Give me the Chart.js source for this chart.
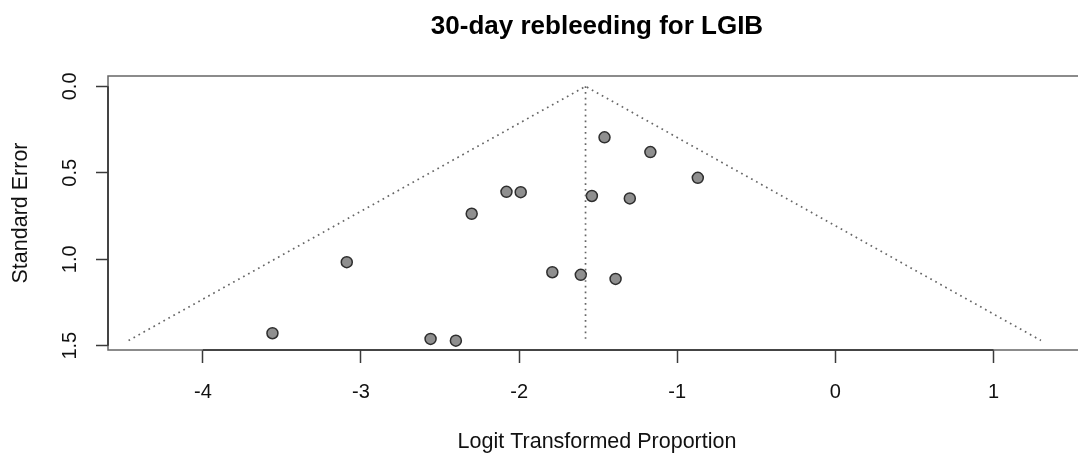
<!DOCTYPE html>
<html>
<head>
<meta charset="utf-8">
<title>30-day rebleeding for LGIB</title>
<script src="https://cdn.jsdelivr.net/npm/chart.js@4.4.1/dist/chart.umd.min.js"></script>
<style>
  html, body { margin: 0; padding: 0; background: #ffffff; overflow: hidden; }
  #funnel-container { width: 1093px; height: 459px; }
</style>
</head>
<body>
<div id="funnel-container"><canvas id="funnel-chart" width="1093" height="459"></canvas></div>
<script>
// study estimates
const logitProportion = [-3.56, -3.09, -2.56, -2.40, -2.30, -2.08, -1.99, -1.79, -1.61, -1.54, -1.46, -1.17, -0.87, -1.30, -1.39];
const standardError = [1.428, 1.017, 1.461, 1.471, 0.737, 0.610, 0.612, 1.075, 1.090, 0.634, 0.295, 0.380, 0.529, 0.648, 1.114];

// funnel outline and pooled estimate line
const funnelX = [-4.47, -1.58, 1.30];
const funnelY = [1.47, 0, 1.47];
const pooledX = [-1.58, -1.58];
const pooledY = [0, 1.47];

const xTicks = [-4, -3, -2, -1, 0, 1];
const yTicks = [0, 0.5, 1.0, 1.5];

const toPoints = (xs, ys) => xs.map((x, i) => ({ x: x, y: ys[i] }));

// R style box round the plotting region, with the axis lines drawn over it
const plotBox = {
  id: 'plotBox',
  afterDraw(chart) {
    const a = chart.chartArea;
    const ctx = chart.ctx;
    const xs = chart.scales.x;
    const ys = chart.scales.y;
    ctx.save();
    ctx.strokeStyle = '#666666';
    ctx.lineWidth = 1.5;
    ctx.strokeRect(a.left, a.top, a.right - a.left + 4, a.bottom - a.top);

    ctx.strokeStyle = '#2e2e2e';
    ctx.beginPath();
    ctx.moveTo(xs.getPixelForValue(xTicks[0]), a.bottom);
    ctx.lineTo(xs.getPixelForValue(xTicks[xTicks.length - 1]), a.bottom);
    ctx.moveTo(a.left, ys.getPixelForValue(yTicks[0]));
    ctx.lineTo(a.left, ys.getPixelForValue(yTicks[yTicks.length - 1]));
    ctx.stroke();
    ctx.restore();
  }
};

document.addEventListener('DOMContentLoaded', function() {
  const ctx = document.getElementById('funnel-chart').getContext('2d');
  const dotted = { borderColor: '#666666', borderWidth: 1.7, borderDash: [1.7, 4.0], pointRadius: 0, showLine: true, fill: false };
  const xMin = -4.6, xMax = 1.585;

  new Chart(ctx, {
    type: 'scatter',
    data: {
      datasets: [
        Object.assign({ label: 'funnel', data: toPoints(funnelX, funnelY) }, dotted),
        Object.assign({ label: 'pooled', data: toPoints(pooledX, pooledY) }, dotted),
        {
          label: 'studies',
          data: toPoints(logitProportion, standardError),
          backgroundColor: '#8f8f8f',
          borderColor: '#2e2e2e',
          borderWidth: 1.5,
          pointRadius: 5.5
        }
      ]
    },
    options: {
      responsive: false,
      animation: false,
      layout: { padding: 0 },
      plugins: {
        legend: { display: false },
        tooltip: { enabled: false }
      },
      scales: {
        x: {
          type: 'linear',
          min: xMin,
          max: xMax,
          afterBuildTicks: s => { s.ticks = xTicks.map(v => ({ value: v })); },
          afterFit: s => { s.height = 109; s.paddingLeft = 0; s.paddingRight = 0; },
          grid: { display: true, drawOnChartArea: false, drawTicks: true, tickLength: 13, tickColor: '#3a3a3a', tickWidth: 1.5 },
          border: { display: false },
          ticks: {
            color: '#111',
            font: { family: 'Liberation Sans', size: 20 },
            padding: 17,
            maxRotation: 0,
            callback: v => String(v)
          },
          title: {
            display: true,
            text: 'Logit Transformed Proportion',
            color: '#111',
            font: { family: 'Liberation Sans', size: 21.5 },
            padding: { top: 0, bottom: 4 }
          }
        },
        // top axis only carries the main title, centred over the plot like R does
        top: {
          type: 'linear',
          position: 'top',
          min: xMin,
          max: xMax,
          afterFit: s => { s.height = 76; s.paddingLeft = 0; s.paddingRight = 0; },
          grid: { display: false },
          border: { display: false },
          ticks: { display: false },
          title: {
            display: true,
            text: '30-day rebleeding for LGIB',
            color: '#000',
            font: { family: 'Liberation Sans', size: 26, weight: 'bold', lineHeight: 1.2 },
            padding: { top: 11.5, bottom: 0 }
          }
        },
        y: {
          type: 'linear',
          reverse: true,
          min: -0.06,
          max: 1.525,
          afterBuildTicks: s => { s.ticks = yTicks.map(v => ({ value: v })); },
          afterFit: s => { s.width = 108; },
          grid: { display: true, drawOnChartArea: false, drawTicks: true, tickLength: 12, tickColor: '#3a3a3a', tickWidth: 1.5 },
          border: { display: false },
          ticks: {
            color: '#111',
            font: { family: 'Liberation Sans', size: 20 },
            padding: 12,
            minRotation: 90,
            maxRotation: 90,
            crossAlign: 'center',
            callback: v => v.toFixed(1)
          },
          title: {
            display: true,
            text: 'Standard Error',
            color: '#111',
            font: { family: 'Liberation Sans', size: 21.5 },
            padding: { top: 8, bottom: 0 }
          }
        }
      }
    },
    plugins: [plotBox]
  });
});
</script>
</body>
</html>
